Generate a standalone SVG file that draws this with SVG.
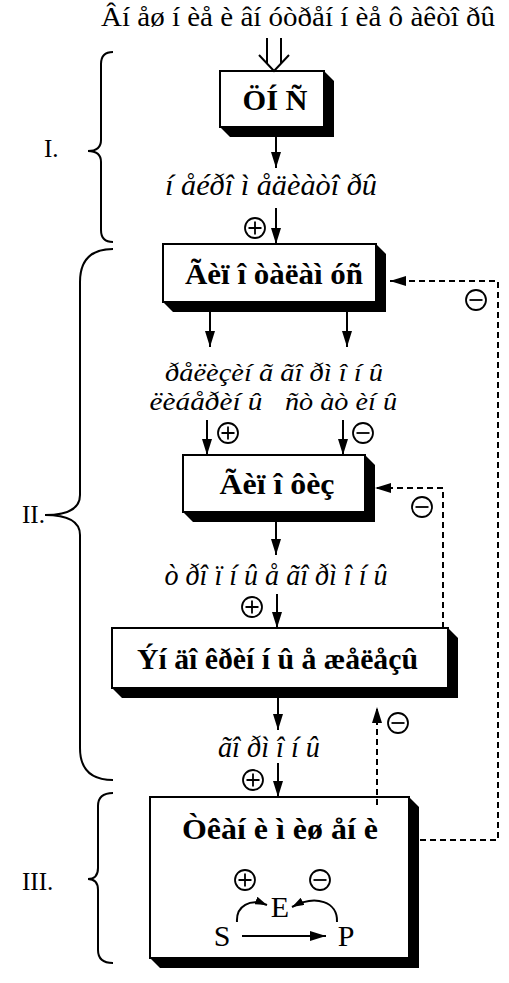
<svg xmlns="http://www.w3.org/2000/svg" width="509" height="983" viewBox="0 0 509 983">
<style>
.bx{fill:#fff;stroke:#000;stroke-width:2}
.sh{fill:#000}
.bt{font-family:"Liberation Serif",serif;font-weight:bold;font-size:30px;text-anchor:middle}
.it{font-family:"Liberation Serif",serif;font-style:italic;font-size:29px;text-anchor:middle}
.it2{font-family:"Liberation Serif",serif;font-style:italic;font-size:26px;text-anchor:middle}
.rg{font-family:"Liberation Serif",serif;font-size:28px;text-anchor:middle}
.sp{font-family:"Liberation Serif",serif;font-size:30px;text-anchor:middle}
.rn{font-family:"Liberation Serif",serif;font-size:25px}
.ln{stroke:#000;stroke-width:2;fill:none}
.ds{stroke:#000;stroke-width:2;fill:none;stroke-dasharray:6,4}
.sg{fill:none;stroke:#000;stroke-width:1.8}
</style>
<defs>
<marker id="ah" markerWidth="16" markerHeight="10" refX="16" refY="5" orient="auto" markerUnits="userSpaceOnUse"><path d="M0,0 L16,5 L0,10 z" fill="#000"/></marker>
<marker id="as" markerWidth="12" markerHeight="8" refX="12" refY="4" orient="auto" markerUnits="userSpaceOnUse"><path d="M0,0 L12,4 L0,8 z" fill="#000"/></marker>
<g id="plus"><circle r="10" class="sg"/><path d="M-6.5,0 H6.5 M0,-6.5 V6.5" class="sg"/></g>
<g id="minus"><circle r="10" class="sg"/><path d="M-6.5,0 H6.5" class="sg"/></g>
</defs>

<text x="298" y="26" class="rg" textLength="394" lengthAdjust="spacingAndGlyphs">Âí åø í èå è âí óòðåí í èå ô àêòî ðû</text>

<g id="braces" class="ln">
<path d="M113,52 Q101,52 101,64 L101,140 Q101,151 88,151 Q101,151 101,162 L101,230 Q101,242 113,242"/>
<path d="M113,249 Q80,249 80,282 L80,495 Q80,515 45,515 Q80,515 80,535 L80,748 Q80,780 113,780"/>
<path d="M113,793 Q98,793 98,806 L98,868 Q98,879 88,879 Q98,879 98,890 L98,950 Q98,963 113,963"/>
</g>
<text x="44" y="157" class="rn">I.</text>
<text x="22" y="523" class="rn">II.</text>
<text x="22" y="890" class="rn">III.</text>

<g id="n1">
<polygon class="sh" points="324,71 334,81 334,137 230,137 220,127"/>
<rect class="bx" x="220" y="71" width="104" height="56"/>
<text x="275" y="110" class="bt" textLength="65" lengthAdjust="spacingAndGlyphs">ÖÍ Ñ</text>
</g>
<g id="n2">
<polygon class="sh" points="376,244 386,254 386,312 173,312 163,302"/>
<rect class="bx" x="163" y="244" width="213" height="58"/>
<text x="274" y="284" class="bt" textLength="178" lengthAdjust="spacingAndGlyphs">Ãèï î òàëàì óñ</text>
</g>
<g id="n3">
<polygon class="sh" points="365,455 375,465 375,522 193,522 183,512"/>
<rect class="bx" x="183" y="455" width="182" height="57"/>
<text x="277" y="494" class="bt" textLength="115" lengthAdjust="spacingAndGlyphs">Ãèï î ôèç</text>
</g>
<g id="n4">
<polygon class="sh" points="448,628 458,638 458,698 122,698 112,688"/>
<rect class="bx" x="112" y="628" width="336" height="60"/>
<text x="277.5" y="669" class="bt" textLength="281" lengthAdjust="spacingAndGlyphs">Ýí äî êðèí í û å æåëåçû</text>
</g>
<g id="n5">
<polygon class="sh" points="409,797 419,807 419,968 160,968 150,958"/>
<rect class="bx" x="150" y="797" width="259" height="161"/>
<text x="280" y="839" class="bt" textLength="196" lengthAdjust="spacingAndGlyphs">Òêàí è ì èø åí è</text>
<text x="222" y="946" class="sp">S</text>
<text x="280" y="917" class="sp">E</text>
<text x="346" y="946" class="sp">P</text>
</g>

<g id="labels">
<text x="271" y="195" class="it" textLength="212" lengthAdjust="spacingAndGlyphs">í åéðî ì åäèàòî ðû</text>
<text x="274" y="381" class="it2" textLength="218" lengthAdjust="spacingAndGlyphs">ðåëèçèí ã ãî ðì î í û</text>
<text x="206" y="410" class="it2" textLength="113" lengthAdjust="spacingAndGlyphs">ëèáåðèí û</text>
<text x="341" y="410" class="it2" textLength="112" lengthAdjust="spacingAndGlyphs">ñò àò èí û</text>
<text x="276" y="585" class="it" textLength="223" lengthAdjust="spacingAndGlyphs">ò ðî ï í û å ãî ðì î í û</text>
<text x="269" y="757" class="it" textLength="102" lengthAdjust="spacingAndGlyphs">ãî ðì î í û</text>
</g>

<g id="connectors">
<path class="ln" d="M267,38 V63 M281,38 V63 M259,55 L274,71 L289,55"/>
<line class="ln" x1="276" y1="137" x2="276" y2="168" marker-end="url(#ah)"/>
<line class="ln" x1="276" y1="208" x2="276" y2="244" marker-end="url(#ah)"/>
<line class="ln" x1="210" y1="312" x2="210" y2="347" marker-end="url(#ah)"/>
<line class="ln" x1="347" y1="312" x2="347" y2="347" marker-end="url(#ah)"/>
<line class="ln" x1="207" y1="420" x2="207" y2="455" marker-end="url(#ah)"/>
<line class="ln" x1="343" y1="420" x2="343" y2="455" marker-end="url(#ah)"/>
<line class="ln" x1="276" y1="522" x2="276" y2="555" marker-end="url(#ah)"/>
<line class="ln" x1="277" y1="594" x2="277" y2="628" marker-end="url(#ah)"/>
<line class="ln" x1="278" y1="698" x2="278" y2="730" marker-end="url(#ah)"/>
<line class="ln" x1="278" y1="763" x2="278" y2="797" marker-end="url(#ah)"/>
<path class="ds" d="M420,840 H498 V281 H390" marker-end="url(#ah)"/>
<path class="ds" d="M443,628 V488 H375" marker-end="url(#ah)"/>
<path class="ds" d="M377,805 V707" marker-end="url(#ah)"/>
<line class="ln" x1="242" y1="936" x2="326" y2="936" marker-end="url(#ah)"/>
<path class="ln" d="M237,922 C236,906 250,898 267,905" marker-end="url(#as)"/>
<path class="ln" d="M337,922 C338,902 316,894 292,907" marker-end="url(#as)"/>
</g>

<g id="signs">
<use href="#plus" x="255" y="228"/>
<use href="#plus" x="228" y="433"/>
<use href="#plus" x="252" y="607"/>
<use href="#plus" x="253" y="780"/>
<use href="#plus" x="245" y="880"/>
<use href="#minus" x="476" y="300"/>
<use href="#minus" x="363" y="433"/>
<use href="#minus" x="422" y="507"/>
<use href="#minus" x="398" y="723"/>
<use href="#minus" x="320" y="880"/>
</g>
</svg>
